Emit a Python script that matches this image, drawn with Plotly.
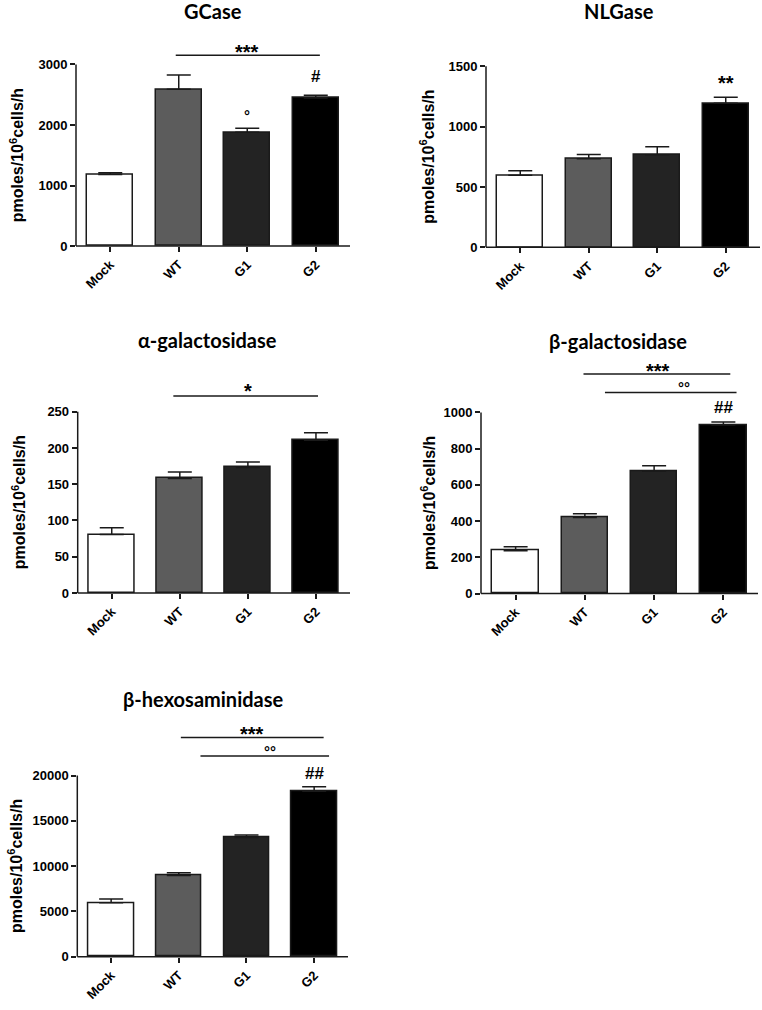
import plotly.graph_objects as go

# ---------------- data ----------------
categories = ["Mock", "WT", "G1", "G2"]

gcase_mean = [1180, 2590, 1880, 2445]
gcase_sem = [30, 235, 65, 45]
gcase_ticks = [0, 1000, 2000, 3000]

nlgase_mean = [596, 733, 766, 1193]
nlgase_sem = [39, 36, 66, 50]
nlgase_ticks = [0, 500, 1000, 1500]

agal_mean = [80.5, 158, 173, 210.5]
agal_sem = [9.5, 9, 7.5, 10.5]
agal_ticks = [0, 50, 100, 150, 200, 250]

bgal_mean = [237, 420, 675, 931]
bgal_sem = [22, 20, 31, 16]
bgal_ticks = [0, 200, 400, 600, 800, 1000]

bhex_mean = [5950, 8950, 13150, 18250]
bhex_sem = [420, 320, 290, 510]
bhex_ticks = [0, 5000, 10000, 15000, 20000]

panel_titles = ["GCase", "NLGase", "α-galactosidase", "β-galactosidase", "β-hexosaminidase"]
y_title = "pmoles/10<sup>6</sup>cells/h"

# ---------------- style / layout ----------------
W, H = 762, 1010
bar_colors = ["#ffffff", "#5c5c5c", "#232323", "#000000"]
INK = "#1a1a1a"
SANS = "Liberation Sans, Arial, sans-serif"
TICK_FONT = dict(family=SANS, size=13, color="black", weight="bold")
TITLE_FONT = dict(family="Lato, Open Sans, sans-serif", size=20, color="black", weight="bold")
YT_FONT = dict(family=SANS, size=16, color="black", weight="bold")
# symbol -> (font size, vertical shift to centre the glyph)
SIG_STYLE = {"*": (20, -5), "°": (15, -3), "#": (17, 0)}

panels = [
    dict(mean=gcase_mean, sem=gcase_sem, ticks=gcase_ticks, x0=76, x1=350, zero=248, top=65, head=35,
         title_xy=(213, 11), ytx=17,
         lines=[(0.956, 3.06, 3152)],
         texts=[("***", 2.0, 3295), ("°", 2.0, 2213), ("#", 3.0, 2795)]),
    dict(mean=nlgase_mean, sem=nlgase_sem, ticks=nlgase_ticks, x0=486, x1=760, zero=249.3, top=66.7, head=40,
         title_xy=(619, 11), ytx=427,
         lines=[],
         texts=[("**", 3.0, 1399)]),
    dict(mean=agal_mean, sem=agal_sem, ticks=agal_ticks, x0=77.7, x1=350, zero=597.7, top=415, head=370,
         title_xy=(207, 343), ytx=19,
         lines=[(0.905, 3.03, 271.6)],
         texts=[("*", 2.0, 285)]),
    dict(mean=bgal_mean, sem=bgal_sem, ticks=bgal_ticks, x0=481, x1=758, zero=598.3, top=415.7, head=360,
         title_xy=(618, 344), ytx=428,
         lines=[(0.98, 3.10, 1212), (1.29, 3.19, 1110)],
         texts=[("***", 2.05, 1256), ("°°", 2.43, 1152), ("##", 3.0, 1027)]),
    dict(mean=bhex_mean, sem=bhex_sem, ticks=bhex_ticks, x0=77.3, x1=348, zero=964.3, top=781.7, head=725,
         title_xy=(203, 705), ytx=15,
         lines=[(1.03, 3.14, 24206), (1.32, 3.22, 22158)],
         texts=[("***", 2.08, 25115), ("°°", 2.34, 23000), ("##", 3.0, 20263)]),
]

fig = go.Figure()
annotations = []
shapes = []
xpos = list(range(len(categories)))

for i, (p, title) in enumerate(zip(panels, panel_titles)):
    n = "" if i == 0 else str(i + 1)
    xid, yid = "x" + n, "y" + n
    top_val = p["ticks"][-1]
    rtop = top_val * (p["zero"] - p["head"]) / (p["zero"] - p["top"])

    fig.add_trace(go.Bar(
        x=xpos, y=p["mean"], xaxis=xid, yaxis=yid, width=0.67,
        marker=dict(color=bar_colors, line=dict(color=INK, width=1.5)),
        error_y=dict(type="data", symmetric=False, array=p["sem"], arrayminus=[0] * len(p["sem"]),
                     color=INK, thickness=1.5, width=12),
        showlegend=False, hoverinfo="skip",
    ))
    for (a, b, yv) in p["lines"]:
        fig.add_trace(go.Scatter(x=[a, b], y=[yv, yv], xaxis=xid, yaxis=yid, mode="lines",
                                 line=dict(color=INK, width=1.5), showlegend=False, hoverinfo="skip"))
    for (t, xv, yv) in p["texts"]:
        size, shift = SIG_STYLE[t[0]]
        annotations.append(dict(text=t, x=xv, y=yv, xref=xid, yref=yid, showarrow=False,
                                xanchor="center", yanchor="middle", yshift=shift,
                                font=dict(family=SANS, size=size, color="black", weight="bold")))

    fig.layout["xaxis" + n] = dict(
        domain=[p["x0"] / W, p["x1"] / W], range=[-0.5, 3.5], anchor=yid,
        tickvals=xpos, ticktext=categories, tickangle=-45, tickfont=TICK_FONT,
        ticks="outside", ticklen=5, tickwidth=1.5, tickcolor=INK,
        showline=False, showgrid=False, zeroline=False,
    )
    fig.layout["yaxis" + n] = dict(
        domain=[1 - p["zero"] / H, 1 - p["head"] / H], range=[0, rtop], anchor=xid,
        tickvals=p["ticks"], tickformat="d", tickfont=TICK_FONT,
        ticks="outside", ticklen=5, tickwidth=1.5, tickcolor=INK,
        showline=False, showgrid=False, zeroline=False,
    )
    # axis lines (y axis stops at the top tick, x axis overlays the bar bottoms)
    shapes.append(dict(type="line", xref=xid + " domain", yref=yid + " domain",
                       x0=0, x1=0, y0=0, y1=top_val / rtop, line=dict(color=INK, width=1.5)))
    shapes.append(dict(type="line", xref=xid + " domain", yref=yid + " domain",
                       x0=0, x1=1, y0=0, y1=0, line=dict(color=INK, width=1.5)))

    tx, ty = p["title_xy"]
    annotations.append(dict(text=title, x=tx / W, y=1 - ty / H, xref="paper", yref="paper",
                            showarrow=False, xanchor="center", yanchor="middle", font=TITLE_FONT))
    mid = (p["zero"] + p["top"]) / 2
    annotations.append(dict(text=y_title, x=p["ytx"] / W, y=1 - mid / H, xref="paper", yref="paper",
                            showarrow=False, xanchor="center", yanchor="middle", textangle=-90,
                            font=YT_FONT))

fig.update_layout(
    width=W, height=H, margin=dict(l=0, r=0, t=0, b=0),
    paper_bgcolor="white", plot_bgcolor="white",
    annotations=annotations, shapes=shapes, bargap=0,
)

fig.write_html("out.html", config={"displayModeBar": False},
               post_script="document.body.style.margin='0px';document.body.style.padding='0px';")
